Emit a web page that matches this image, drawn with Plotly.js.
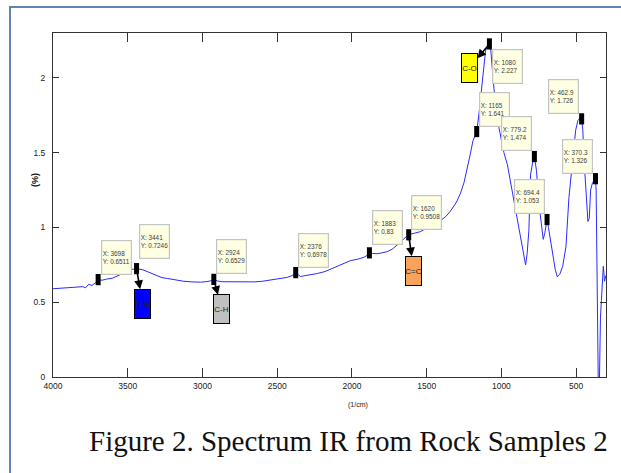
<!DOCTYPE html>
<html><head><meta charset="utf-8">
<script src="https://cdn.plot.ly/plotly-3.0.1.min.js"></script>
<style>
html,body{margin:0;padding:0;background:#fff;width:621px;height:473px;overflow:hidden;}
#frame{position:absolute;left:9px;top:6px;width:640px;height:500px;border-left:2px solid #6186ae;border-top:2px solid #6186ae;}
#chart{position:absolute;left:0;top:0;width:621px;height:473px;}
</style></head><body>
<div id="frame"></div>
<div id="chart"></div>
<script>
// Spectrum (wavenumber 1/cm, value %)
const wavenumber = [4000,3960,3920,3880,3850,3828,3800,3783,3761,3740,3716,3698,3671,3640,3604,3571,3540,3510,3480,3441,3404,3370,3337,3300,3270,3236,3180,3125,3070,3013,2970,2940,2924,2900,2868,2800,2746,2701,2650,2600,2567,2500,2433,2400,2376,2360,2344,2300,2260,2232,2180,2121,2080,2040,2010,1960,1920,1900,1883,1860,1831,1800,1764,1730,1697,1670,1652,1620,1580,1541,1519,1480,1440,1407,1370,1340,1300,1273,1250,1230,1210,1190,1165,1150,1128,1106,1090,1080,1072,1060,1050,1030,1017,995,983,960,930,900,872,850,838,828,816,805,790,779.2,765,750,735,720,710,700,694.4,685,670,655,640,626,610,590,568,548,525,503,488,475,462.9,455,448,438,430,421,412,403,390,380,370.3,366,362,358,354,350,346,343,337,331,324,318,314,310,305,300];
const signal = [0.59,0.592,0.595,0.598,0.602,0.600,0.604,0.596,0.620,0.612,0.630,0.6511,0.647,0.655,0.660,0.675,0.690,0.705,0.718,0.7246,0.718,0.705,0.690,0.678,0.664,0.659,0.648,0.640,0.636,0.634,0.638,0.644,0.6529,0.642,0.637,0.636,0.635,0.632,0.636,0.640,0.645,0.652,0.666,0.678,0.6978,0.685,0.672,0.680,0.686,0.692,0.705,0.730,0.748,0.765,0.778,0.788,0.800,0.812,0.830,0.826,0.824,0.830,0.838,0.855,0.880,0.905,0.925,0.9508,0.962,0.972,0.985,1.005,1.025,1.045,1.075,1.110,1.170,1.230,1.300,1.380,1.480,1.580,1.641,1.760,1.960,2.180,2.220,2.227,2.200,2.050,1.930,1.770,1.670,1.560,1.500,1.420,1.250,1.090,0.920,0.800,0.750,0.820,0.980,1.350,1.440,1.474,1.380,1.170,1.050,0.920,0.960,1.030,1.053,1.000,0.900,0.800,0.720,0.670,0.685,0.740,0.870,1.200,1.430,1.650,1.715,1.730,1.726,1.650,1.470,1.300,1.160,1.040,1.060,1.250,1.300,1.315,1.326,1.250,0.870,0.430,0.000,-0.200,-0.150,0.250,0.400,0.510,0.630,0.740,0.700,0.640,0.660,0.680];

// Data tips
const tipX = [3698,3441,2924,2376,1883,1620,1165,1080,779.2,694.4,462.9,370.3];
const tipY = [0.6511,0.7246,0.6529,0.6978,0.83,0.9508,1.641,2.227,1.474,1.053,1.726,1.326];

// Band labels
const bandNames = ['N-H','C-H','C=C','C-O'];
const bandX = [3441,2924,1620,1080];
const bandY = [0.7246,0.6529,0.9508,2.227];

// Ticks
const xTicks = [4000,3500,3000,2500,2000,1500,1000,500];
const yTicks = [0,0.5,1,1.5,2];
const yTickText = ['0','0.5','1','1.5','2'];

// ---- layout helpers (placement/style only) ----
const sans = '"Liberation Sans",Arial,sans-serif';
const tipPlace = [[1,5],[1,10],[1,5],[1,5],[1,8],[1,5],[1,5],[1,-5],[-1,6],[-1,6],[-1,5],[-1,5]];
const bandPlace = [[6,35],[8,30],[5,36],[-20,24]];
const bandFill = ['#0000ff','#c0c0c0','#f7a35c','#ffff00'];

const annotations = [];
tipX.forEach((x,i)=>{
  const [sx,sy] = tipPlace[i];
  annotations.push({
    x:x, y:tipY[i], xref:'x', yref:'y', showarrow:false,
    text:'X: '+x+'<br>Y: '+tipY[i], align:'left',
    xanchor: sx>0?'left':'right', yanchor: sy>0?'bottom':'top',
    xshift: sx*2.5, yshift: sy,
    bgcolor:'#ffffe3', bordercolor:'#c4c4c4', borderwidth:1.2, borderpad:0.5,
    width:27.5, height:32,
    font:{family:sans,size:6.4,color:'#3c3c3c'}
  });
});
bandNames.forEach((n,i)=>{
  annotations.push({
    x:bandX[i], y:bandY[i], xref:'x', yref:'y',
    text:n, showarrow:true, arrowside:'start',
    ax:bandPlace[i][0], ay:bandPlace[i][1],
    startarrowhead:2, startarrowsize:1.1, arrowwidth:1.6, arrowcolor:'#000',
    bgcolor:bandFill[i], bordercolor:'#000', borderwidth:1, borderpad:0,
    width:15, height:28,
    font:{family:sans,size:8,color:'#222'}
  });
});
annotations.push({xref:'paper',yref:'paper',x:-0.033,y:0.572,xanchor:'center',yanchor:'middle',
  text:'<b>(%)</b>',textangle:-90,showarrow:false,
  font:{family:sans,size:9,color:'#111'}});
annotations.push({xref:'paper',yref:'paper',x:0.5515,y:-0.082,xanchor:'center',yanchor:'middle',
  text:'(1/cm)',showarrow:false,
  font:{family:sans,size:7,color:'#222'}});
annotations.push({xref:'paper',yref:'paper',x:0.535,y:-0.187,xanchor:'center',yanchor:'middle',
  text:'Figure 2. Spectrum IR from Rock Samples 2',showarrow:false,
  font:{family:'"Liberation Serif","DejaVu Serif",serif',size:29,color:'#111'}});

const traces = [
  {x:wavenumber, y:signal, type:'scatter', mode:'lines', line:{color:'#2b2bff',width:1}, hoverinfo:'skip'},
  {x:tipX, y:tipY, type:'scatter', mode:'markers', marker:{symbol:'line-ns-open',size:8,color:'#000',line:{width:5,color:'#000'}}, hoverinfo:'skip'}
];

const axisCommon = {showgrid:false, zeroline:false, showline:true, linecolor:'#333', linewidth:1,
  mirror:'ticks', ticks:'inside', tickcolor:'#333', tickwidth:1,
  tickfont:{family:sans,size:8.5,color:'#222'}};

const layout = {
  width:621, height:473,
  margin:{l:53, r:15, t:33, b:96, pad:0},
  paper_bgcolor:'rgba(0,0,0,0)', plot_bgcolor:'#fff',
  showlegend:false,
  xaxis:Object.assign({}, axisCommon, {range:[4000,300], tickvals:xTicks, ticktext:xTicks.map(String), ticklen:9, ticklabelstandoff:1}),
  yaxis:Object.assign({}, axisCommon, {range:[0,2.3], tickvals:yTicks, ticktext:yTickText, ticklen:6, ticklabelstandoff:5}),
  annotations:annotations
};
Plotly.newPlot('chart', traces, layout, {staticPlot:true, displayModeBar:false});
</script>
</body></html>
